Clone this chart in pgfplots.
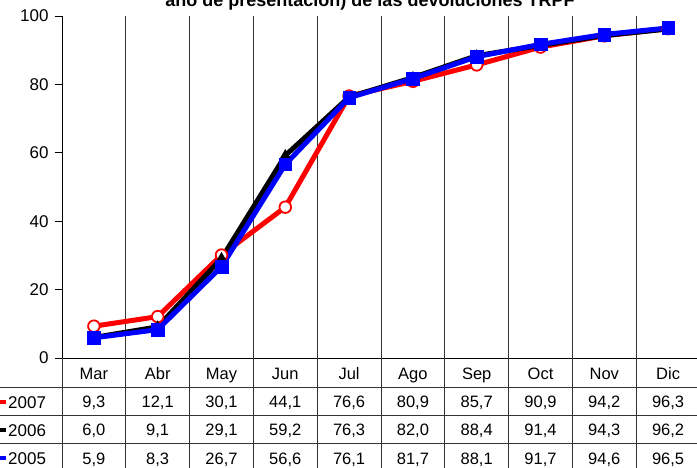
\documentclass[border=0pt]{standalone}
\usepackage{pgfplots}
\pgfplotsset{compat=1.18}
\usepackage{pgfplotstable}
\usepackage{fontspec}
\setmainfont{Liberation Sans}

\pgfplotstableread{
x m s2007 s2006 s2005
0 Mar 9.3 6.0 5.9
1 Abr 12.1 9.1 8.3
2 May 30.1 29.1 26.7
3 Jun 44.1 59.2 56.6
4 Jul 76.6 76.3 76.1
5 Ago 80.9 82.0 81.7
6 Sep 85.7 88.4 88.1
7 Oct 90.9 91.4 91.7
8 Nov 94.2 94.3 94.6
9 Dic 96.3 96.2 96.5
}\data

\begin{document}
\begin{tikzpicture}
\useasboundingbox (0pt,0pt) rectangle (697pt,468pt);
\node[font=\bfseries\fontsize{18}{18}\selectfont, anchor=base] at (370pt,461pt) {año de presentación) de las devoluciones TRPF};
\begin{axis}[
  at={(62pt,110pt)}, anchor=south west,
  scale only axis, width=638pt, height=342pt,
  xmin=-0.5, xmax=9.5, ymin=0, ymax=100,
  clip=false,
  axis x line*=bottom, axis y line*=left,
  axis line style={-, black, line width=0.8pt},
  xtick=\empty,
  ytick={0,20,...,100},
  tick align=outside, major tick length=7pt,
  ytick style={black, line width=0.8pt},
  yticklabel style={font=\fontsize{17}{17}\selectfont, xshift=-3pt},
  /pgf/number format/assume math mode=true,
]
% grid and table lines
\pgfplotsinvokeforeach{0.5,1.5,2.5,3.5,4.5,5.5,6.5,7.5,8.5}{
  \draw[black!80, line width=0.8pt] (axis cs:#1,-32.2) -- (axis cs:#1,100);
}
\draw[black!80, line width=0.8pt] (axis cs:-0.5,-32.2) -- (axis cs:-0.5,0);
\draw[black!80, line width=0.8pt] (axis cs:-1.6,-8.5) -- (axis cs:9.6,-8.5);
\draw[black!80, line width=0.8pt] (axis cs:-1.6,-16.7) -- (axis cs:9.6,-16.7);
\draw[black!80, line width=0.8pt] (axis cs:-1.6,-24.9) -- (axis cs:9.6,-24.9);

\addplot[red, line width=5pt, mark=*, mark size=5.8pt,
  mark options={fill=white, draw=red, line width=1.8pt}] table[x=x,y=s2007]{\data};
\addplot[black, line width=5pt, mark=triangle*, mark size=6pt,
  mark options={fill=black, draw=black, line width=0.5pt}] table[x=x,y=s2006]{\data};
\addplot[blue, line width=5pt, mark=square*, mark size=6.3pt,
  mark options={fill=blue, draw=blue, line width=0.5pt}] table[x=x,y=s2005]{\data};

% table text
\pgfplotsset{tabrow/.style={draw=none, mark=none, nodes near coords, nodes near coords align={anchor=base},
  every node near coord/.append style={anchor=base, text=black, font=\fontsize{16.5}{16.5}\selectfont, inner sep=0pt}}}
\addplot[tabrow, point meta=explicit symbolic] table[x=x, y expr=-6.2, meta=m]{\data};
\pgfplotsset{tabnum/.style={tabrow, point meta=explicit,
  nodes near coords={\pgfmathprintnumber[fixed, fixed zerofill, precision=1, use comma, assume math mode=true]{\pgfplotspointmeta}}}}
\addplot[tabnum] table[x=x, y expr=-14.6, meta=s2007]{\data};
\addplot[tabnum] table[x=x, y expr=-22.8, meta=s2006]{\data};
\addplot[tabnum] table[x=x, y expr=-31.0, meta=s2005]{\data};
\end{axis}
% row labels with legend keys
\draw[red, line width=4pt] (-2pt,66pt) -- (6pt,66pt);
\node[anchor=base west, font=\fontsize{17}{17}\selectfont, inner sep=0pt] at (8pt,59pt) {2007};
\draw[black, line width=4pt] (-2pt,38pt) -- (6pt,38pt);
\node[anchor=base west, font=\fontsize{17}{17}\selectfont, inner sep=0pt] at (8pt,31pt) {2006};
\draw[blue, line width=4pt] (-2pt,10pt) -- (6pt,10pt);
\node[anchor=base west, font=\fontsize{17}{17}\selectfont, inner sep=0pt] at (8pt,3pt) {2005};
\end{tikzpicture}
\end{document}
